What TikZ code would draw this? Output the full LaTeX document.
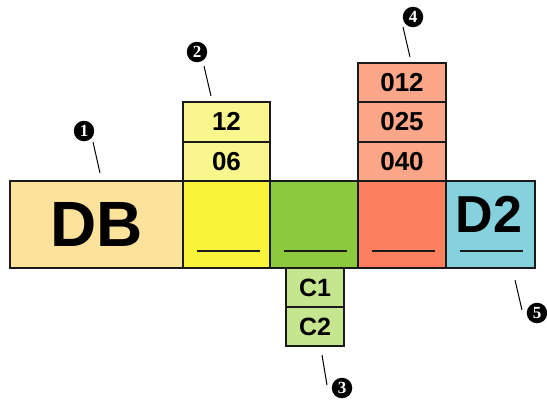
\documentclass[tikz,border=0pt]{standalone}
\usepackage{fontspec}
\setmainfont{Liberation Sans}
\newfontfamily\calfont{Liberation Serif}
\definecolor{dbfill}{HTML}{FDE29B}
\definecolor{yfill}{HTML}{F9F33A}
\definecolor{ylight}{HTML}{F8F68C}
\definecolor{gfill}{HTML}{8CC93E}
\definecolor{glight}{HTML}{C6E58F}
\definecolor{rfill}{HTML}{FC7F5F}
\definecolor{rlight}{HTML}{FBA689}
\definecolor{bfill}{HTML}{86D1DE}
\definecolor{edge}{HTML}{1A1A1A}
\tikzset{
  cell/.style={draw=edge, line width=2pt, inner sep=0pt, outer sep=0pt, rectangle},
  bigcell/.style={cell, minimum height=87pt},
  small/.style={cell, font=\bfseries\fontsize{26}{26}\selectfont},
  blank/.style={draw=edge, line width=2.6pt},
  callout/.style={circle, fill=black, inner sep=0pt, minimum size=20.5pt, text=white, font=\calfont\bfseries\fontsize{17}{17}\selectfont},
  lead/.style={draw=black, line width=1pt}
}
\begin{document}
\begin{tikzpicture}[x=1pt,y=-1pt]
\useasboundingbox[fill=white] (0,0) rectangle (547,400);
% main row
\node[bigcell, fill=dbfill, minimum width=173pt] (DB) at (96.5,224.5) {};
\node[font=\bfseries\fontsize{64}{64}\selectfont] (DBt) at (97,224.5) {DB};
\node[bigcell, fill=yfill, minimum width=87pt] (Y) at (226.5,224.5) {};
\node[bigcell, fill=gfill, minimum width=88pt] (G) at (314,224.5) {};
\node[bigcell, fill=rfill, minimum width=88pt] (R) at (402,224.5) {};
\node[bigcell, fill=bfill, minimum width=89pt] (B) at (490.5,224.5) {};
\node[font=\bfseries\fontsize{52}{52}\selectfont] (D2) at (489,214) {D2};
% underlines
\foreach \n in {Y,G,R,B}
  \draw[blank] ([shift={(14pt,17pt)}]\n.south west) -- ++(62.5,0);
% yellow stack
\node[small, fill=ylight, minimum width=87pt, minimum height=39.5pt] (Y1) at (226.5,121.75) {12};
\node[small, fill=ylight, minimum width=87pt, minimum height=39.5pt] (Y2) at (226.5,161.25) {06};
% red stack
\node[small, fill=rlight, minimum width=88pt, minimum height=39.3pt] (R1) at (402,82.65) {012};
\node[small, fill=rlight, minimum width=88pt, minimum height=39.3pt] (R2) at (402,121.95) {025};
\node[small, fill=rlight, minimum width=88pt, minimum height=39.3pt] (R3) at (402,161.25) {040};
% green stack
\node[small, fill=glight, minimum width=58pt, minimum height=39pt, font=\bfseries\fontsize{25}{25}\selectfont] (G1) at (315,287.5) {C1};
\node[small, fill=glight, minimum width=58pt, minimum height=39pt, font=\bfseries\fontsize{25}{25}\selectfont] (G2) at (315,326.5) {C2};
% callouts
\node[callout] (c1) at (84,131) {1};
\node[callout] (c2) at (197,52) {2};
\node[callout] (c3) at (342,388) {3};
\node[callout] (c4) at (413,17) {4};
\node[callout] (c5) at (537,313) {5};
\coordinate (l1a) at (93,142); \coordinate (l1b) at (100,173);
\coordinate (l2a) at (204,66); \coordinate (l2b) at (211,96);
\coordinate (l3a) at (322,355); \coordinate (l3b) at (327,385);
\coordinate (l4a) at (403,27); \coordinate (l4b) at (410,57);
\coordinate (l5a) at (515,280); \coordinate (l5b) at (522,310);
\draw[lead] (l1a) -- (l1b);
\draw[lead] (l2a) -- (l2b);
\draw[lead] (l3a) -- (l3b);
\draw[lead] (l4a) -- (l4b);
\draw[lead] (l5a) -- (l5b);
\end{tikzpicture}
\end{document}
